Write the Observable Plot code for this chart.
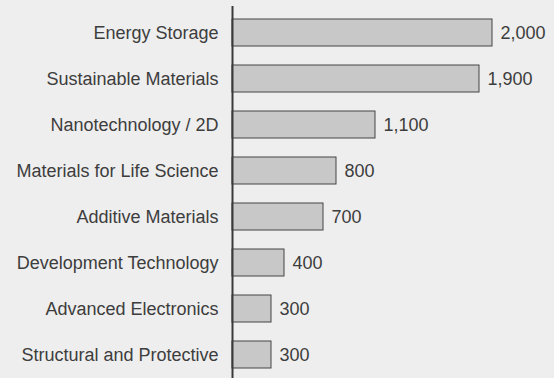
<!DOCTYPE html>
<html>
<head>
<meta charset="utf-8">
<script src="https://cdn.jsdelivr.net/npm/d3@7"></script>
<script src="https://cdn.jsdelivr.net/npm/@observablehq/plot@0.6"></script>
<style>
html, body { margin: 0; padding: 0; background: #eeeeee; overflow: hidden; }
</style>
</head>
<body>
<div id="chart"></div>
<script>
const categories = [
  "Energy Storage",
  "Sustainable Materials",
  "Nanotechnology / 2D",
  "Materials for Life Science",
  "Additive Materials",
  "Development Technology",
  "Advanced Electronics",
  "Structural and Protective"
];
const values = [2000, 1900, 1100, 800, 700, 400, 300, 300];

const data = categories.map((c, i) => ({category: c, value: values[i]}));

const chart = Plot.plot({
  width: 554,
  height: 378,
  marginTop: 6,
  marginBottom: 0,
  marginLeft: 232,
  marginRight: 0,
  style: {background: "#eeeeee", fontFamily: "'Liberation Sans', Arial, sans-serif", color: "#444"},
  x: {domain: [0, 2000], range: [232, 492], axis: null},
  y: {domain: categories, range: [6, 381], paddingInner: 0.42, paddingOuter: 0.21, label: null, axis: null},
  marks: [
    Plot.axisY({tickSize: 0, tickPadding: 14, fontSize: 18, fill: "#3d3d3d", label: null}),
    Plot.barX(data, {x: "value", y: "category", fill: "#c8c8c8", stroke: "#444", strokeWidth: 1}),
    Plot.text(data, {x: "value", y: "category", text: d => d3.format(",")(d.value), textAnchor: "start", dx: 8, fill: "#3d3d3d", fontSize: 18}),
    Plot.ruleX([0], {stroke: "#3a3a3a", strokeWidth: 2})
  ]
});
document.getElementById("chart").appendChild(chart);
</script>
</body>
</html>
